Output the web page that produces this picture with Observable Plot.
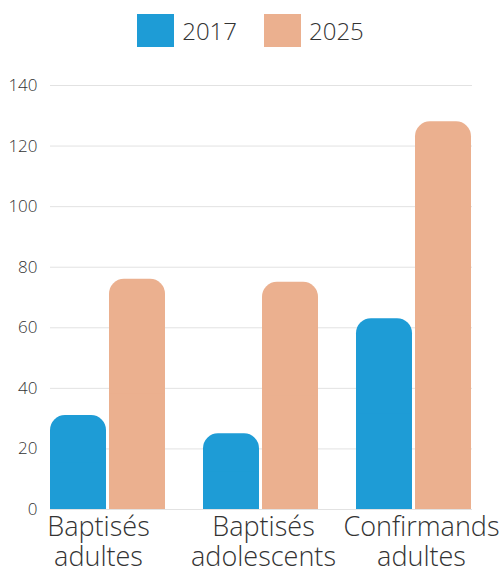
<!DOCTYPE html>
<html><head><meta charset="utf-8">
<script src="https://cdn.jsdelivr.net/npm/d3@7"></script>
<script src="https://cdn.jsdelivr.net/npm/@observablehq/plot@0.6"></script>
<style>
body{margin:0;background:#fff;font-family:"Open Sans",sans-serif;overflow:hidden;}
#legend{height:60px;display:flex;align-items:center;justify-content:center;gap:0;position:relative;}
.item{display:flex;align-items:center;font-size:24px;font-weight:300;color:#333;}
.sw{width:37px;height:33px;margin-right:8px;}
</style></head>
<body>
<div id="legend"></div>
<div id="chart"></div>
<script>
const categories = ["Baptisés\nadultes", "Baptisés\nadolescents", "Confirmands\nadultes"];
const years = ["2017", "2025"];
const values2017 = [31, 25, 63];
const values2025 = [76, 75, 128];
const yTicks = [0, 20, 40, 60, 80, 100, 120, 140];
const colors = ["#1e9cd6", "#ebb08f"];
const labelShift = [-10, 2, 7];

const data = [];
categories.forEach((c, i) => {
  data.push({category: c, year: years[0], value: values2017[i]});
  data.push({category: c, year: years[1], value: values2025[i]});
});
const grid = [];
categories.forEach((c, i) => yTicks.forEach(t => grid.push({category: c, tick: t, last: i === categories.length - 1})));

const legend = document.getElementById("legend");
years.forEach((y, i) => {
  const it = document.createElement("div");
  it.className = "item";
  it.style.marginRight = i === 0 ? "27px" : "0";
  it.innerHTML = `<span class="sw" style="background:${colors[i]}"></span><span>${y}</span>`;
  legend.appendChild(it);
});

const chart = Plot.plot({
  width: 501,
  height: 510,
  marginLeft: 49,
  marginRight: 28,
  marginTop: 25,
  marginBottom: 61,
  style: {fontFamily: "'Open Sans', sans-serif", fontWeight: 300, color: "#333", background: "#fff", overflow: "visible"},
  fx: {domain: categories, paddingInner: 0.24, paddingOuter: 0, label: null},
  x: {domain: years, paddingInner: 0.05, paddingOuter: 0, axis: null},
  y: {domain: [0, 140], label: null},
  color: {domain: years, range: colors},
  marks: [
    Plot.ruleY(grid.filter(d => !d.last), {fx: "category", y: "tick", stroke: "#e2e2e2", strokeWidth: 1, insetRight: -37}),
    Plot.ruleY(grid.filter(d => d.last), {fx: "category", y: "tick", stroke: "#e2e2e2", strokeWidth: 1}),
    Plot.barY(data, {fx: "category", x: "year", y: "value", fill: "year", rx: 15}),
    Plot.barY(data, {fx: "category", x: "year", y: d => d.value / 2, fill: "year"}),
    Plot.axisY(yTicks, {tickSize: 0, tickPadding: 13, fontSize: 17, fill: "#333", label: null}),
    ...categories.map((c, i) => Plot.axisFx({anchor: "bottom", tickSize: 0, tickPadding: 5, dx: labelShift[i], fontSize: 27, lineHeight: 1.11, fill: "#333", label: null, tickFormat: d => d === c ? d : ""}))
  ]
});
document.getElementById("chart").appendChild(chart);
</script>
</body></html>
